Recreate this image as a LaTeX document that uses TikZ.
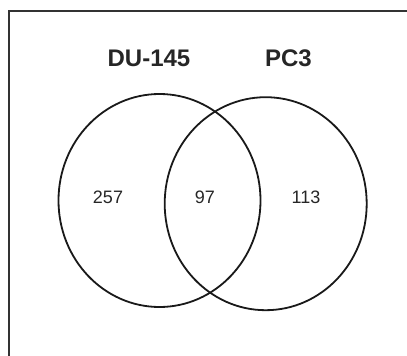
\documentclass[tikz,border=0pt]{standalone}
\usepackage{fontspec}
\setmainfont{Liberation Sans}
\usetikzlibrary{shapes.geometric}
\begin{document}
\begin{tikzpicture}[x=1pt,y=-1pt,
  setcircle/.style={draw=black!90, line width=1.8pt, ellipse, inner sep=0pt,
    minimum width=202pt, minimum height=213pt},
  setlabel/.style={font=\fontsize{24}{28}\selectfont\bfseries, text=black!85, inner sep=0pt},
  countlabel/.style={font=\fontsize{18}{22}\selectfont, text=black!85, inner sep=0pt},
  frameline/.style={draw=black!80, line width=1.5pt}]
\useasboundingbox (0,0) rectangle (407,356);
\coordinate (fbl) at (9,360);
\coordinate (ftl) at (9,11);
\coordinate (ftr) at (410,11);
\draw[frameline] (fbl) -- (ftl) -- (ftr);
\node[setcircle] (du) at (159.5,200.5) {};
\node[setcircle] (pc) at (265.7,203.7) {};
\node[setlabel] (dul) at (149,58) {DU-145};
\node[setlabel] (pcl) at (288.5,58) {PC3};
\node[countlabel] (a) at (108,197) {257};
\node[countlabel] (b) at (205,197) {97};
\node[countlabel] (c) at (306,197) {113};
\end{tikzpicture}
\end{document}
